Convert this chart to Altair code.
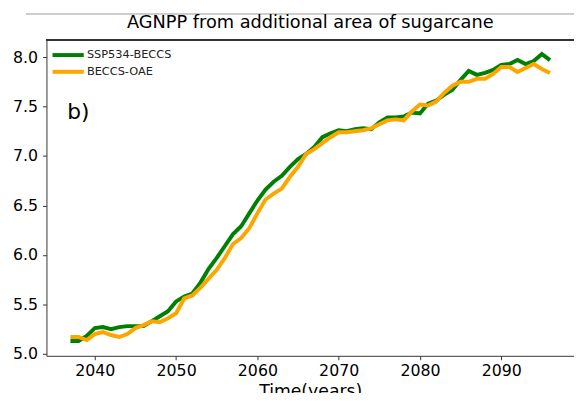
import altair as alt
import pandas as pd

years = list(range(2037, 2097))

ssp534_beccs = [
    5.13, 5.13, 5.18, 5.26, 5.27, 5.25, 5.27, 5.28, 5.28, 5.28,
    5.33, 5.38, 5.43, 5.53, 5.58, 5.61, 5.72, 5.86, 5.97, 6.09,
    6.21, 6.29, 6.42, 6.55, 6.66, 6.74, 6.80, 6.89, 6.97, 7.02,
    7.09, 7.19, 7.23, 7.26, 7.25, 7.27, 7.28, 7.27, 7.34, 7.39,
    7.39, 7.40, 7.44, 7.43, 7.53, 7.56, 7.62, 7.67, 7.77, 7.86,
    7.82, 7.84, 7.87, 7.92, 7.93, 7.97, 7.93, 7.96, 8.03, 7.97,
]

beccs_oae = [
    5.17, 5.17, 5.14, 5.20, 5.22, 5.19, 5.17, 5.20, 5.26, 5.29,
    5.33, 5.32, 5.36, 5.41, 5.56, 5.59, 5.67, 5.76, 5.85, 5.97,
    6.11, 6.17, 6.27, 6.42, 6.56, 6.62, 6.67, 6.79, 6.89, 7.02,
    7.07, 7.13, 7.19, 7.24, 7.24, 7.25, 7.26, 7.28, 7.32, 7.36,
    7.37, 7.36, 7.45, 7.52, 7.51, 7.55, 7.64, 7.71, 7.75, 7.75,
    7.78, 7.78, 7.83, 7.90, 7.90, 7.85, 7.89, 7.93, 7.88, 7.84,
]

series_names = ["SSP534-BECCS", "BECCS-OAE"]
series_colors = ["#008000", "#FFA500"]
x_ticks = [2040, 2050, 2060, 2070, 2080, 2090]
y_ticks = [5.0, 5.5, 6.0, 6.5, 7.0, 7.5, 8.0]

df = pd.DataFrame({
    "year": years * 2,
    "value": ssp534_beccs + beccs_oae,
    "series": [series_names[0]] * len(years) + [series_names[1]] * len(years),
})

W, H = 535, 320
FONT = "DejaVu Sans"

lines = alt.Chart(df).mark_line(strokeWidth=4).encode(
    x=alt.X("year:Q",
            scale=alt.Scale(domain=[2034.05, 2098.95], nice=False, zero=False),
            axis=alt.Axis(values=x_ticks, format="d", title="Time(years)",
                          grid=False, tickSize=4, labelPadding=3,
                          labelFontSize=16, titleFontSize=17.5,
                          titleFontWeight="normal", titlePadding=4,
                          labelFont=FONT, titleFont=FONT,
                          labelColor="#000", titleColor="#000",
                          domainColor="#333", tickColor="#333")),
    y=alt.Y("value:Q",
            scale=alt.Scale(domain=[4.98, 8.17], nice=False, zero=False),
            axis=alt.Axis(values=y_ticks, format=".1f", title=None,
                          grid=False, tickSize=4, labelPadding=5,
                          labelFontSize=16, labelFont=FONT,
                          labelColor="#000",
                          domainColor="#333", tickColor="#333")),
    color=alt.Color("series:N",
                    scale=alt.Scale(domain=series_names, range=series_colors),
                    sort=series_names,
                    legend=alt.Legend(title=None, orient="none",
                                      legendX=13, legendY=6,
                                      symbolType="M-2.35,0H2.35",
                                      symbolSize=182,
                                      symbolStrokeWidth=4,
                                      labelFontSize=11.5, labelFont=FONT,
                                      labelColor="#222",
                                      labelOffset=10, rowPadding=-2,
                                      padding=0)),
)

top_spine = alt.Chart(df).mark_rule(color="#333", strokeWidth=1).encode(
    x=alt.value(0), x2=alt.value(W), y=alt.value(0)
)

frame_line = alt.Chart(df).mark_rule(color="#cccccc", strokeWidth=1).encode(
    x=alt.value(-20), x2=alt.value(W + 10), y=alt.value(-27)
)

panel_label = alt.Chart(pd.DataFrame({"t": ["b)"]})).mark_text(
    fontSize=22, font=FONT, color="#000", align="left", baseline="middle"
).encode(x=alt.value(21), y=alt.value(73), text="t:N")

chart = alt.layer(frame_line, top_spine, lines, panel_label).properties(
    width=W, height=H,
    title=alt.TitleParams("AGNPP from additional area of sugarcane",
                          fontSize=18, font=FONT, fontWeight="normal",
                          color="#000", offset=8, dy=27, frame="group"),
    padding={"left": 39, "top": 30, "right": 0, "bottom": 35},
    autosize=alt.AutoSizeParams(type="none"),
).configure_view(stroke=None)

chart.save("out.html", embed_options={"renderer": "svg", "actions": False})
